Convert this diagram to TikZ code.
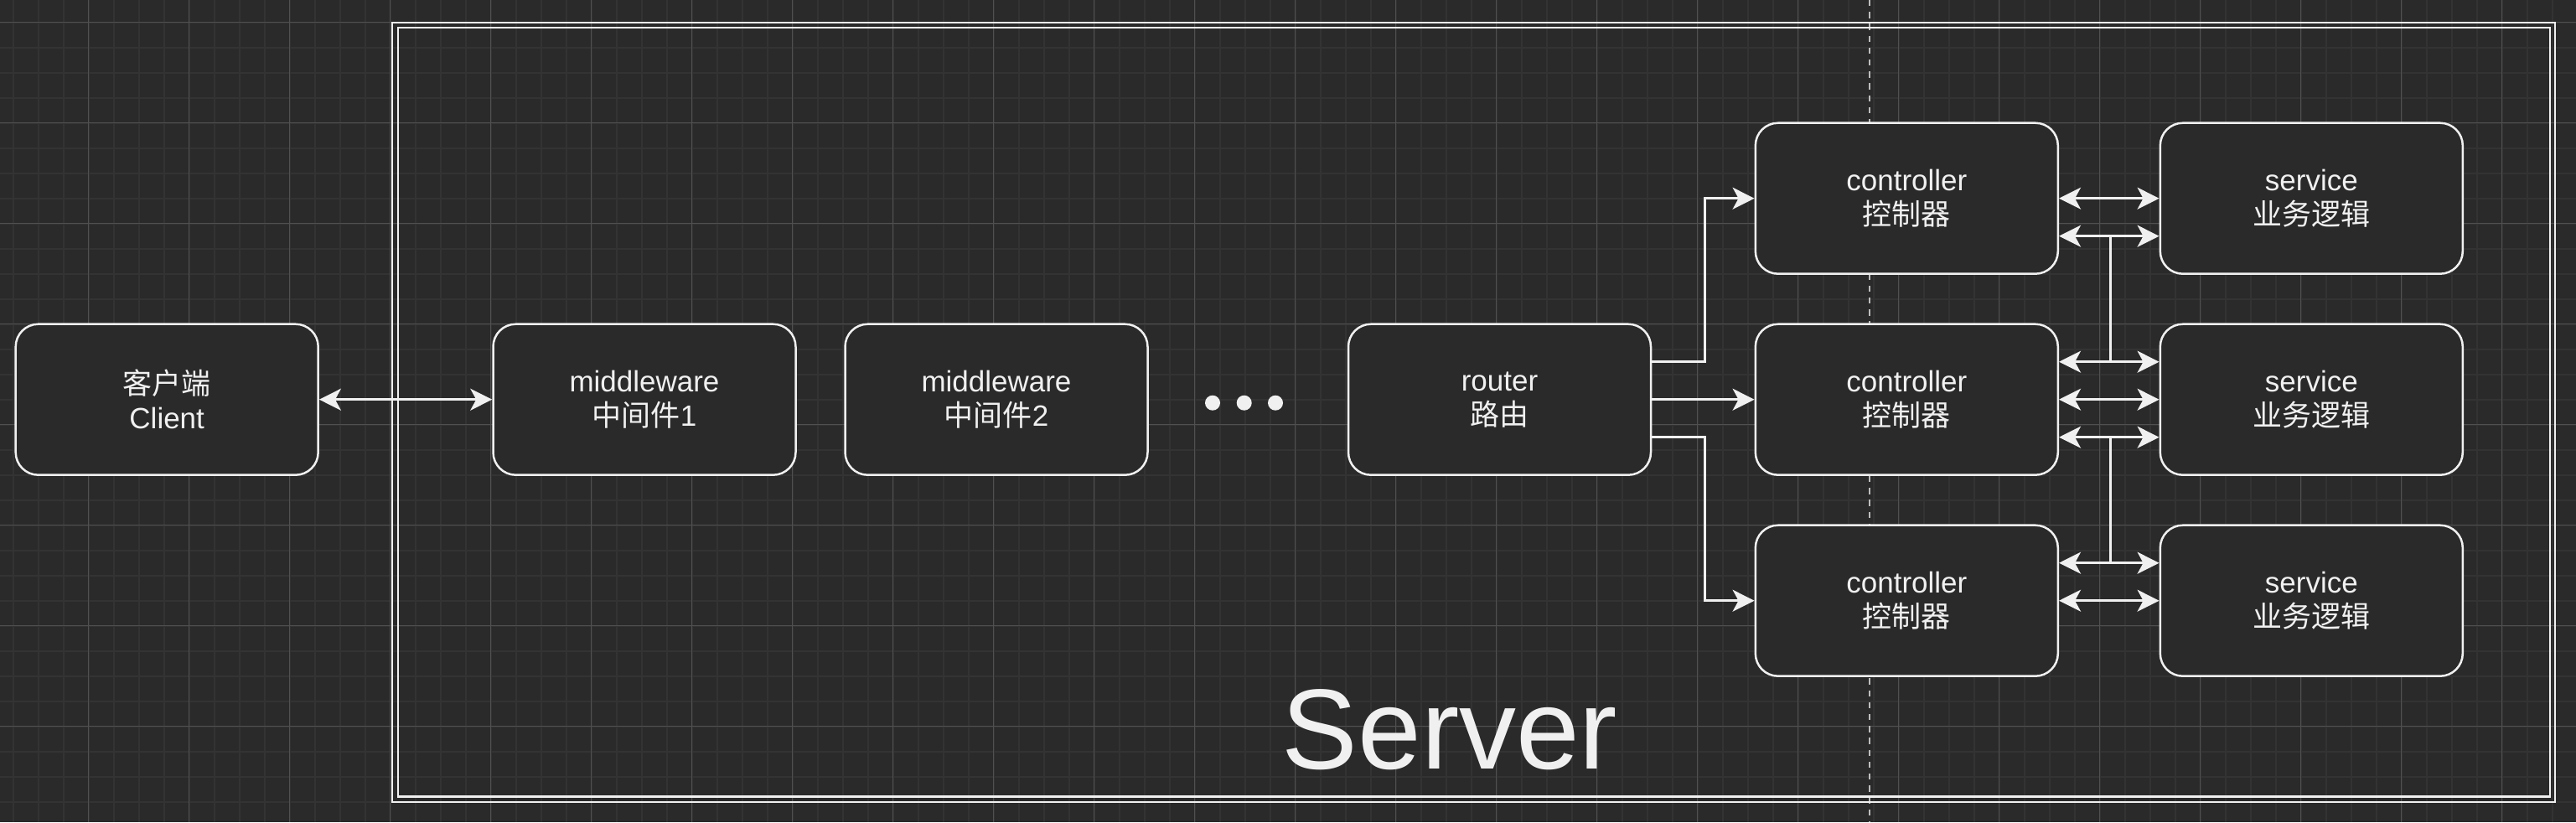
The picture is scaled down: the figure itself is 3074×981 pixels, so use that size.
\documentclass[tikz,border=0pt]{standalone}
\usepackage{fontspec}
\setmainfont{Liberation Sans}
\newfontfamily\cjk{Noto Sans CJK SC}
\usetikzlibrary{arrows.meta,calc}
\definecolor{bgc}{HTML}{2A2A2A}
\definecolor{fg}{HTML}{F0F0F0}
\definecolor{gminor}{HTML}{333333}
\definecolor{gmajor}{HTML}{505050}
\definecolor{dashc}{HTML}{BDBDBD}
\begin{document}
\begin{tikzpicture}[x=0.5pt,y=-0.5pt,
  box/.style={draw=fg, fill=bgc, line width=1.25pt, rounded corners=13.5pt,
    minimum width=180.5pt, minimum height=90pt, inner sep=0pt, align=center,
    text=fg, font=\fontsize{17.5pt}{20.5pt}\selectfont},
  conn/.style={draw=fg, line width=1.25pt, -{Stealth[length=13pt,width=13pt,inset=3.5pt]}},
  dconn/.style={draw=fg, line width=1.25pt, {Stealth[length=13pt,width=13pt,inset=3.5pt]}-{Stealth[length=13pt,width=13pt,inset=3.5pt]}},
  gridminor/.style={draw=gminor, line width=1pt},
  gridmajor/.style={draw=gmajor, line width=0.6pt},
  frameline/.style={draw=fg, line width=1.1pt},
  dashline/.style={draw=dashc, line width=1pt, dash pattern=on 3.7pt off 3.4pt},
]
% background
\useasboundingbox (0,0) rectangle (3074,981);
\fill[bgc] (0,0) rectangle (3074,981);
% grid
\foreach \i in {0,...,102} \draw[gridminor] ({15.7+30*\i},0) -- ++(0,981);
\foreach \j in {0,...,33} \draw[gridminor] (0,{-3.5+30*\j}) -- ++(3074,0);
\foreach \i in {0,...,24} \draw[gridmajor] ({105.7+120*\i},0) -- ++(0,981);
\foreach \j in {0,...,7} \draw[gridmajor] (0,{26.5+120*\j}) -- ++(3074,0);
% dashed divider
\draw[dashline] (2231,0) -- (2231,981);
% server frame (double line)
\draw[frameline] (468.3,26.7) rectangle (3049.3,956.7);
\draw[frameline] (475,33.3) rectangle (3043.3,950.5);
% boxes
\node[box] (client) at (199.2,476.7) {{\cjk 客户端}\\Client};
\node[box] (mw1) at (769,476.7) {middleware\\{\cjk 中间件}1};
\node[box] (mw2) at (1189,476.7) {middleware\\{\cjk 中间件}2};
\node[box] (router) at (1789.5,476.7) {router\\{\cjk 路由}};
\node[box] (c1) at (2275.3,236.7) {controller\\{\cjk 控制器}};
\node[box] (c2) at (2275.3,476.7) {controller\\{\cjk 控制器}};
\node[box] (c3) at (2275.3,716.7) {controller\\{\cjk 控制器}};
\node[box] (s1) at (2758.3,236.7) {service\\{\cjk 业务逻辑}};
\node[box] (s2) at (2758.3,476.7) {service\\{\cjk 业务逻辑}};
\node[box] (s3) at (2758.3,716.7) {service\\{\cjk 业务逻辑}};
% dots
\fill[fg] (1447,480.7) circle (4.5pt);
\fill[fg] (1484.7,480.7) circle (4.5pt);
\fill[fg] (1522,480.7) circle (4.5pt);
% connectors
\draw[dconn] (client.east) -- (mw1.west);
\draw[conn] ([yshift=22.5pt]router.east) -- ++(63,0) |- (c1.west);
\draw[conn] (router.east) -- (c2.west);
\draw[conn] ([yshift=-22.5pt]router.east) -- ++(63,0) |- (c3.west);
\draw[dconn] (c1.east) -- (s1.west);
\draw[dconn] ([yshift=-22.5pt]c1.east) -- ++(61.5,0) |- ([yshift=22.5pt]s2.west);
\draw[dconn] ([yshift=22.5pt]c2.east) -- ++(61.5,0) |- ([yshift=-22.5pt]s1.west);
\draw[dconn] (c2.east) -- (s2.west);
\draw[dconn] ([yshift=-22.5pt]c2.east) -- ++(61.5,0) |- ([yshift=22.5pt]s3.west);
\draw[dconn] ([yshift=22.5pt]c3.east) -- ++(61.5,0) |- ([yshift=-22.5pt]s2.west);
\draw[dconn] (c3.east) -- (s3.west);
% title
\node[text=fg, font=\fontsize{68pt}{80pt}\selectfont, anchor=base, inner sep=0pt] (srv) at (1730,917.5) {Server};
\end{tikzpicture}
\end{document}
